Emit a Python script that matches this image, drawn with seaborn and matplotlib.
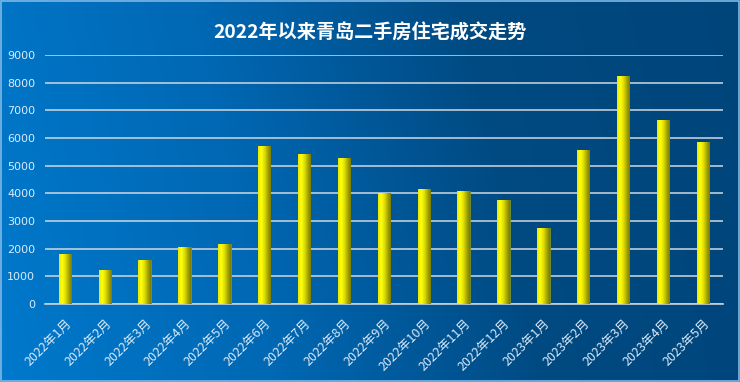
import numpy as np
import pandas as pd
import matplotlib
matplotlib.use('Agg')
import matplotlib.pyplot as plt
import seaborn as sns
from matplotlib.colors import LinearSegmentedColormap
from matplotlib.patches import Rectangle

# ── Data ──────────────────────────────────────────────────────
months = ['2022年1月', '2022年2月', '2022年3月', '2022年4月', '2022年5月',
          '2022年6月', '2022年7月', '2022年8月', '2022年9月', '2022年10月',
          '2022年11月', '2022年12月', '2023年1月', '2023年2月', '2023年3月',
          '2023年4月', '2023年5月']
deals = [1820, 1230, 1600, 2050, 2170, 5700, 5420, 5270, 4000, 4160,
         4080, 3770, 2750, 5570, 8240, 6640, 5850]
y_ticks = [0, 1000, 2000, 3000, 4000, 5000, 6000, 7000, 8000, 9000]
title = '2022年以来青岛二手房住宅成交走势'

df = pd.DataFrame({'month': months, 'deals': deals})

# ── Style ─────────────────────────────────────────────────────
sns.set_theme(style='white')
plt.rcParams['font.family'] = ['Noto Sans CJK SC', 'DejaVu Sans']

fig = plt.figure(figsize=(7.4, 3.82), dpi=100)

# background gradient
bg = fig.add_axes([0, 0, 1, 1], zorder=-10)
bg_cmap = LinearSegmentedColormap.from_list('bg', ['#0079CC', '#0068B4', '#004A82', '#00457A'])
xx, yy = np.meshgrid(np.linspace(0, 1, 300), np.linspace(0, 1, 60))
bg.imshow(xx * 0.9 + yy * 0.1, cmap=bg_cmap, aspect='auto', extent=[0, 1, 0, 1], origin='lower')
bg.add_patch(Rectangle((0.002, 0.003), 0.996, 0.994, fill=False, edgecolor='#7FB8E6', lw=1.2,
                       transform=bg.transAxes))
bg.set_axis_off()

ax = fig.add_axes([0.0608, 0.204, 0.916, 0.652])
ax.patch.set_alpha(0)
sns.barplot(data=df, x='month', y='deals', ax=ax, width=0.31, color='#EEEE00',
            edgecolor='#6E8A30', linewidth=0.6, zorder=3)

bar_cmap = LinearSegmentedColormap.from_list('bar', ['#E8E800', '#FFFF10', '#E0E000', '#A8A800', '#7C7C00'])
grad = np.linspace(0, 1, 64).reshape(1, -1)
for p in ax.patches:
    x0, w, h = p.get_x(), p.get_width(), p.get_height()
    im = ax.imshow(grad, cmap=bar_cmap, aspect='auto', extent=[x0, x0 + w, 0, h], zorder=3.5)
    im.set_clip_path(p)

ax.set_xlim(-0.5, len(months) - 0.5)
ax.set_ylim(0, 9000)
ax.set_yticks(y_ticks)
ax.grid(axis='y', color='#D0D8E0', lw=1.1, zorder=1)
ax.set_axisbelow(True)
for s in ['top', 'right', 'left']:
    ax.spines[s].set_visible(False)
ax.spines['bottom'].set_color('#C8D0D8')
ax.spines['bottom'].set_linewidth(1.2)

ax.set_xticks(np.arange(-0.5, len(months), 1), minor=True)
ax.tick_params(axis='x', which='minor', length=5, width=1, color='#C8D0D8', direction='out')
ax.tick_params(axis='x', which='major', length=0, pad=9, labelsize=9, labelcolor='#DCEBFA')
ax.tick_params(axis='y', length=0, pad=7, labelsize=8, labelcolor='#DCEBFA')
for lab in ax.get_xticklabels():
    lab.set_rotation(45)
    lab.set_ha('right')
    lab.set_rotation_mode('anchor')
for lab in ax.get_yticklabels():
    lab.set_family('DejaVu Sans')
ax.set_xlabel('')
ax.set_ylabel('')

fig.text(0.5, 0.913, title, ha='center', va='center', color='white',
         fontsize=13.8, fontweight='bold')

fig.savefig('out.png', dpi=100)
plt.close(fig)
